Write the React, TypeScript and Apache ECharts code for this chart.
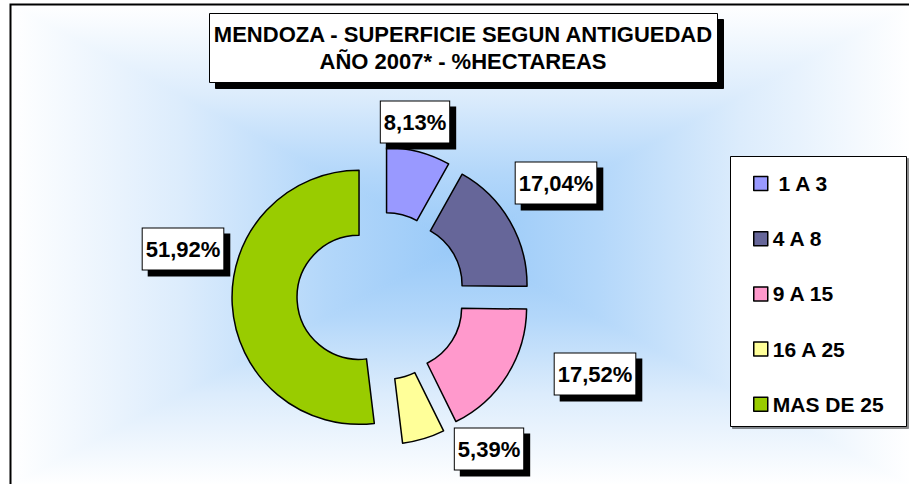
import React, { useEffect, useRef } from "react";
import * as echarts from "echarts";

// ---- data ----
const CATEGORIES = [" 1 A 3", "4 A 8", "9 A 15", "16 A 25", "MAS DE 25"];
const VALUES = [8.13, 17.04, 17.52, 5.39, 51.92];
const TITLE_LINES = ["MENDOZA - SUPERFICIE SEGUN ANTIGUEDAD", "AÑO 2007* - %HECTAREAS"];

// ---- styles ----
const COLORS = ["#9999FF", "#666699", "#FF99CC", "#FFFF99", "#99CC00"];
const FONT = '"Liberation Sans", Arial, sans-serif';
const PIE_CENTER = [381, 296];
// label box centre, relative to the pie centre
const LABEL_OFFSET: [number, number][] = [
  [34, -174],
  [175, -113],
  [214, 78],
  [108, 153],
  [-198, -47],
];

function gradStops() {
  return [
    { offset: 0, color: "#98C9F8" },
    { offset: 0.3, color: "#B3D7FA" },
    { offset: 0.62, color: "#DCECFC" },
    { offset: 1, color: "#FFFFFF" },
  ];
}
function lin(x: number, y: number, x2: number, y2: number) {
  return new echarts.graphic.LinearGradient(x, y, x2, y2, gradStops(), false);
}
const fmt = (v: number) => v.toFixed(2).replace(".", ",") + "%";

export default function App() {
  const ref = useRef<HTMLDivElement>(null);
  useEffect(() => {
    document.body.style.margin = "0";
    if (!ref.current) return;
    const chart = echarts.init(ref.current, null, { renderer: "svg" });
    const x0 = 10, y0 = 4, x1 = 912, y1 = 486;
    const cx = (x0 + x1) / 2, cy = (y0 + y1) / 2;
    const tri = (pts: number[][], g: any) => ({
      type: "polygon",
      z: -10,
      shape: { points: pts },
      style: { fill: g, stroke: g, lineWidth: 1 },
      silent: true,
    });
    const labels = VALUES.map((v, i) => ({
      type: "text",
      z: 20,
      x: PIE_CENTER[0] + LABEL_OFFSET[i][0],
      y: PIE_CENTER[1] + LABEL_OFFSET[i][1],
      style: {
        text: fmt(v),
        fill: "#000",
        fontSize: 22,
        fontWeight: "bold",
        fontFamily: FONT,
        align: "center",
        verticalAlign: "middle",
        lineHeight: 24,
        backgroundColor: "#fff",
        borderColor: "#000",
        borderWidth: 1,
        padding: [9, 3, 8, 3],
        shadowColor: "#000",
        shadowOffsetX: 6,
        shadowOffsetY: 6,
        shadowBlur: 0,
      },
      silent: true,
    }));
    const option: any = {
      animation: false,
      backgroundColor: "#ffffff",
      graphic: [
        tri([[x0, y0], [x1, y0], [cx, cy]], lin(0, 1, 0, 0)),
        tri([[x0, y1], [x1, y1], [cx, cy]], lin(0, 0, 0, 1)),
        tri([[x0, y0], [x0, y1], [cx, cy]], lin(1, 0, 0, 0)),
        tri([[x1, y0], [x1, y1], [cx, cy]], lin(0, 0, 1, 0)),
        {
          type: "rect",
          z: -5,
          shape: { x: 10.5, y: 4.5, width: 910, height: 490 },
          style: { fill: "none", stroke: "#000", lineWidth: 2 },
          silent: true,
        },
        {
          type: "rect",
          z: 3,
          shape: { x: 730.5, y: 156.5, width: 176, height: 270 },
          style: {
            fill: "#fff",
            stroke: "#000",
            lineWidth: 1,
            shadowColor: "rgba(0,0,0,0.45)",
            shadowOffsetX: 2,
            shadowOffsetY: 2,
            shadowBlur: 0,
          },
          silent: true,
        },
        {
          type: "rect",
          z: 10,
          shape: { x: 209.5, y: 13.5, width: 508, height: 69 },
          style: {
            fill: "#fff",
            stroke: "#000",
            lineWidth: 1,
            shadowColor: "#000",
            shadowOffsetX: 6,
            shadowOffsetY: 6,
            shadowBlur: 0,
          },
          silent: true,
        },
        {
          type: "text",
          z: 11,
          x: 463,
          y: 48,
          style: {
            text: TITLE_LINES.join("\n"),
            fill: "#000",
            fontSize: 22,
            fontWeight: "bold",
            fontFamily: FONT,
            align: "center",
            verticalAlign: "middle",
            lineHeight: 27,
          },
          silent: true,
        },
        ...labels,
      ],
      legend: {
        orient: "vertical",
        left: 753,
        top: 173,
        itemGap: 34.2,
        itemWidth: 14,
        itemHeight: 14,
        icon: "rect",
        selectedMode: false,
        padding: 0,
        z: 5,
        textStyle: {
          fontSize: 21,
          fontWeight: "bold",
          fontFamily: FONT,
          color: "#000",
          lineHeight: 20,
        },
        itemStyle: { borderColor: "#000", borderWidth: 1.5 },
        data: CATEGORIES,
      },
      series: [
        {
          type: "pie",
          center: PIE_CENTER,
          radius: [62, 127],
          startAngle: 90,
          clockwise: true,
          avoidLabelOverlap: false,
          selectedMode: "multiple",
          selectedOffset: 22,
          z: 2,
          data: CATEGORIES.map((n, i) => ({
            name: n,
            value: VALUES[i],
            selected: true,
            itemStyle: { color: COLORS[i] },
          })),
          itemStyle: { borderColor: "#000", borderWidth: 1.5 },
          select: { itemStyle: { borderColor: "#000", borderWidth: 1.5 } },
          emphasis: { disabled: true },
          labelLine: { show: false },
          label: { show: false },
        },
      ],
    };
    chart.setOption(option);
    return () => chart.dispose();
  }, []);
  return (
    <div
      ref={ref}
      style={{ position: "fixed", left: 0, top: 0, width: 909, height: 484 }}
    />
  );
}
